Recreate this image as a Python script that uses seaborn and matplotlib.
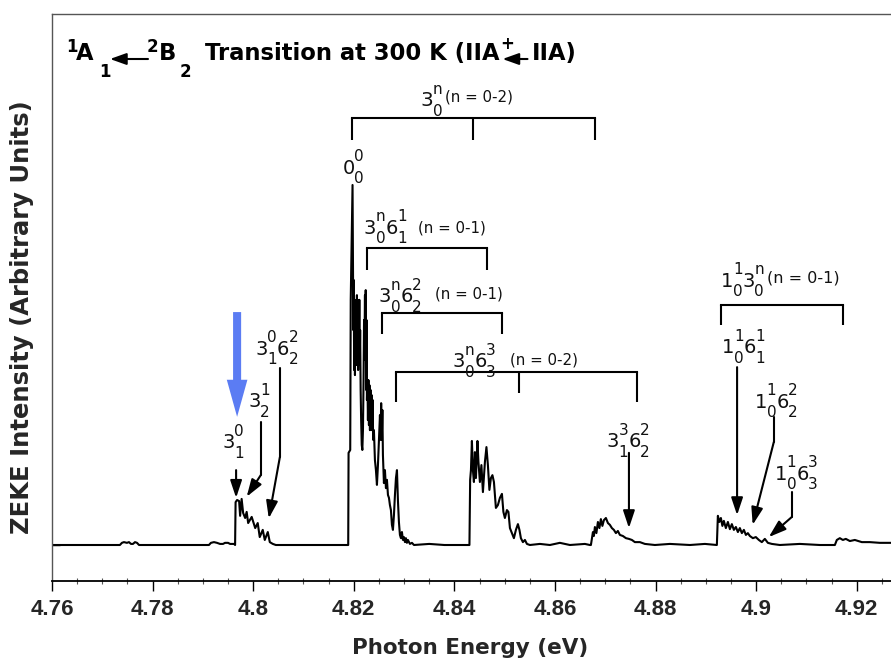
import matplotlib
matplotlib.use("Agg")
import matplotlib.pyplot as plt
from matplotlib.ticker import MultipleLocator
from matplotlib.transforms import offset_copy
import pandas as pd
import seaborn as sns

# ---------------- data ----------------
# photon energy (eV) and ZEKE intensity (arbitrary units, 0-0 band = 1)
pre_e = [4.7600, 4.7735, 4.7739, 4.7743, 4.7749, 4.7753, 4.7757, 4.7761, 4.7765, 4.7769, 4.7773,
         4.7912, 4.7916, 4.7922, 4.7928, 4.7934, 4.7940, 4.7944, 4.7950, 4.7954, 4.7962]
pre_i = [0, 0, 0.006, 0.008, 0.006, 0.008, 0.003, 0.003, 0.008, 0.006, 0,
         0, 0.006, 0.008, 0.006, 0.003, 0.003, 0.006, 0.006, 0.003, 0.003]

band1_e = [4.7964, 4.7965, 4.7968, 4.7972, 4.7974, 4.7977, 4.7980, 4.7984, 4.7987, 4.7990,
           4.7997, 4.8004, 4.8009, 4.8013, 4.8019, 4.8023, 4.8029, 4.8033, 4.8039, 4.8045]
band1_i = [0.0, 0.119, 0.125, 0.122, 0.081, 0.128, 0.089, 0.075, 0.092, 0.061,
           0.078, 0.047, 0.061, 0.022, 0.042, 0.014, 0.036, 0.008, 0.003, 0.0]

band0_e = [4.81864, 4.81889, 4.81896, 4.81929, 4.81939, 4.81955, 4.81975,
           4.81983, 4.81991, 4.81999, 4.82007, 4.82015, 4.82023, 4.82031, 4.82039, 4.82047, 4.82055,
           4.82062, 4.82070, 4.82078, 4.82086, 4.82094, 4.82102, 4.82110, 4.82118, 4.82126, 4.82136,
           4.82146, 4.82158, 4.82170, 4.82182, 4.82194, 4.82204, 4.82214, 4.82222, 4.82229, 4.82237,
           4.82245, 4.82253, 4.82261, 4.82271, 4.82281, 4.82291, 4.82301, 4.82311, 4.82321, 4.82331,
           4.82341, 4.82351, 4.82361, 4.82373, 4.82385, 4.82400, 4.82420, 4.82440, 4.82460, 4.82480,
           4.82500, 4.82520, 4.82532, 4.82544, 4.82556, 4.82568, 4.82579,
           4.82599, 4.82619, 4.82639, 4.82659, 4.82679, 4.82699, 4.82718, 4.82738, 4.82758,
           4.82778, 4.82798, 4.82818, 4.82838, 4.82858, 4.82877, 4.82897, 4.82917, 4.82937, 4.82957,
           4.82977, 4.82997, 4.83017, 4.83036, 4.83056, 4.83076, 4.83116, 4.83156, 4.83196,
           4.8350, 4.8380, 4.8420]
band0_i = [0.0, 0.0, 0.256, 0.264, 0.681, 0.819, 1.000,
           0.819, 0.597, 0.736, 0.486, 0.681, 0.472, 0.625, 0.514, 0.681, 0.500,
           0.694, 0.542, 0.681, 0.486, 0.653, 0.528, 0.681, 0.500, 0.597, 0.431,
           0.347, 0.278, 0.264, 0.319, 0.458, 0.625, 0.569, 0.694, 0.514, 0.708,
           0.431, 0.625, 0.403, 0.458, 0.347, 0.458, 0.333, 0.444, 0.319, 0.431,
           0.333, 0.417, 0.319, 0.403, 0.292, 0.319, 0.236, 0.208, 0.167, 0.222,
           0.292, 0.361, 0.292, 0.394, 0.292, 0.375, 0.250,
           0.172, 0.208, 0.158, 0.181, 0.139, 0.131, 0.111, 0.097, 0.056,
           0.042, 0.083, 0.139, 0.186, 0.208, 0.125, 0.064, 0.028, 0.019, 0.036,
           0.014, 0.022, 0.008, 0.019, 0.006, 0.014, 0.003, 0.006, 0.0,
           0.003, 0.0, 0.0]

band2_e = [4.84269, 4.84299, 4.84313, 4.84329, 4.84348, 4.84368, 4.84388, 4.84408, 4.84428, 4.84458,
           4.84478, 4.84507, 4.84537, 4.84567, 4.84607, 4.84637, 4.84666, 4.84696, 4.84726, 4.84756,
           4.84786, 4.84825, 4.84865, 4.84905, 4.84945, 4.84974, 4.85004, 4.85044, 4.85074, 4.85104,
           4.85143, 4.85183, 4.85223, 4.85263, 4.85293, 4.85322, 4.85362, 4.85402, 4.85442, 4.85501,
           4.85700, 4.85899, 4.86097, 4.86296, 4.86594, 4.86694]
band2_i = [0.0, 0.0, 0.181, 0.208, 0.289, 0.208, 0.175, 0.258, 0.186, 0.289,
           0.231, 0.175, 0.222, 0.147, 0.231, 0.272, 0.222, 0.153, 0.186, 0.194,
           0.175, 0.103, 0.111, 0.131, 0.142, 0.092, 0.075, 0.097, 0.092, 0.047,
           0.033, 0.019, 0.042, 0.058, 0.042, 0.019, 0.008, 0.014, 0.003, 0.0,
           0.003, 0.0, 0.006, 0.0, 0.003, 0.0]

band3_e = [4.86714, 4.86734, 4.86754, 4.86773, 4.86793, 4.86823, 4.86853, 4.86883, 4.86912, 4.86942,
           4.86972, 4.87012, 4.87052, 4.87091, 4.87131, 4.87171, 4.87211, 4.87250, 4.87290, 4.87350,
           4.87410, 4.87469, 4.87529, 4.87588, 4.87688, 4.87787, 4.87986, 4.88284, 4.88682, 4.88980,
           4.89198]
band3_i = [0.0, 0.019, 0.036, 0.025, 0.050, 0.033, 0.064, 0.047, 0.072, 0.053,
           0.069, 0.075, 0.061, 0.056, 0.047, 0.042, 0.033, 0.039, 0.028, 0.025,
           0.019, 0.017, 0.014, 0.008, 0.008, 0.003, 0.0, 0.003, 0.0, 0.003,
           0.0]

band4_e = [4.89218, 4.89238, 4.89268, 4.89298, 4.89328, 4.89357, 4.89397, 4.89437, 4.89477, 4.89516,
           4.89556, 4.89596, 4.89636, 4.89675, 4.89715, 4.89755, 4.89795, 4.89834, 4.89874, 4.89934,
           4.89993, 4.90053, 4.90112, 4.90172, 4.90232, 4.90311, 4.90470, 4.90868, 4.91266, 4.91564]
band4_i = [0.0, 0.081, 0.064, 0.075, 0.053, 0.067, 0.047, 0.064, 0.044, 0.058,
           0.042, 0.050, 0.036, 0.047, 0.033, 0.042, 0.028, 0.033, 0.025, 0.019,
           0.022, 0.014, 0.008, 0.017, 0.006, 0.003, 0.0, 0.003, 0.0, 0.0]

band5_e = [4.91603, 4.91663, 4.91723, 4.91782, 4.91862, 4.91961, 4.92100, 4.92259, 4.92458, 4.92677]
band5_i = [0.014, 0.019, 0.014, 0.017, 0.011, 0.014, 0.008, 0.008, 0.006, 0.006]

energy = pre_e + band1_e + band0_e + band2_e + band3_e + band4_e + band5_e
intensity = pre_i + band1_i + band0_i + band2_i + band3_i + band4_i + band5_i

x_ticks = [4.76, 4.78, 4.80, 4.82, 4.84, 4.86, 4.88, 4.90, 4.92]
x_tick_labels = ["4.76", "4.78", "4.8", "4.82", "4.84", "4.86", "4.88", "4.9", "4.92"]

# progression combs (tooth energies, bar level, tooth ends)
comb_teeth = [[4.8196, 4.8437, 4.8679], [4.8226, 4.8465], [4.8256, 4.8494],
              [4.8284, 4.8528, 4.8763], [4.8930, 4.9172]]
comb_bar = [1.186, 0.825, 0.644, 0.481, 0.667]
comb_ends = [[1.125, 1.125, 1.125], [0.764, 0.764], [0.586, 0.586],
             [0.397, 0.422, 0.397], [0.611, 0.611]]
comb_labels = [[("3", "n", "0")], [("3", "n", "0"), ("6", "1", "1")], [("3", "n", "0"), ("6", "2", "2")],
               [("3", "n", "0"), ("6", "3", "3")], [("1", "1", "0"), ("3", "n", "0")]]
comb_label_x = [4.8333, 4.8220, 4.8250, 4.8397, 4.8930]
comb_label_y = [1.219, 0.864, 0.675, 0.494, 0.717]
comb_range = ["(n = 0-2)", "(n = 0-1)", "(n = 0-1)", "(n = 0-2)", "(n = 0-1)"]
comb_range_x = [4.8381, 4.8328, 4.8361, 4.8510, 4.9021]
comb_range_y = [1.244, 0.881, 0.697, 0.514, 0.742]

# band assignments with arrows
peak_labels = [[("3", "0", "1")], [("3", "1", "2")], [("3", "0", "1"), ("6", "2", "2")],
               [("0", "0", "0")], [("3", "3", "1"), ("6", "2", "2")], [("1", "1", "0"), ("6", "1", "1")],
               [("1", "1", "0"), ("6", "2", "2")], [("1", "1", "0"), ("6", "3", "3")]]
peak_label_x = [4.7938, 4.7990, 4.8004, 4.8178, 4.8703, 4.8932, 4.8997, 4.9037]
peak_label_y = [0.269, 0.383, 0.528, 1.031, 0.272, 0.533, 0.381, 0.181]
arrow_paths = [
    [(4.7966, 0.208), (4.7966, 0.131)],
    [(4.8015, 0.342), (4.8015, 0.194), (4.7987, 0.134)],
    [(4.8053, 0.492), (4.8053, 0.244), (4.8031, 0.074)],
    [(4.8747, 0.256), (4.8747, 0.047)],
    [(4.8962, 0.494), (4.8962, 0.083)],
    [(4.9035, 0.356), (4.9035, 0.286), (4.8993, 0.056)],
    [(4.9071, 0.147), (4.9071, 0.078), (4.9025, 0.022)],
]
blue_arrow_x = 4.7968
blue_arrow_top = 0.647
blue_arrow_tip = 0.356

# ---------------- styling ----------------
sns.set_theme(style="ticks")
plt.rcParams["font.family"] = ["DejaVu Sans"]

W, H = 891, 666
fig = plt.figure(figsize=(W / 100, H / 100), dpi=100)
ax = fig.add_axes([52 / W, 85 / H, 839 / W, 567 / H])
renderer = fig.canvas.get_renderer()

df = pd.DataFrame({"energy": energy, "intensity": intensity})
sns.lineplot(data=df, x="energy", y="intensity", sort=False, estimator=None,
             color="black", linewidth=1.5, ax=ax)

ax.set_xlim(4.76, 4.9268)
ax.set_ylim(-0.1, 1.475)
ax.set_xlabel("")
ax.set_ylabel("")

ax.set_xticks(x_ticks)
ax.set_xticklabels(x_tick_labels, fontweight="bold", fontsize=16, family="Liberation Sans")
ax.xaxis.set_minor_locator(MultipleLocator(0.005))
ax.tick_params(axis="x", which="major", direction="out", length=7, width=1.0, color="black", pad=6)
ax.tick_params(axis="x", which="minor", direction="inout", length=5, width=0.8, color="#555555")
ax.set_yticks([0])
ax.set_yticklabels([])
ax.tick_params(axis="y", which="major", direction="in", length=6, width=1.0, color="black")
ax.tick_params(axis="y", which="minor", left=False)

for side in ["left", "top"]:
    ax.spines[side].set_color("#555555")
    ax.spines[side].set_linewidth(1.0)
ax.spines["bottom"].set_color("black")
ax.spines["bottom"].set_linewidth(1.3)
ax.spines["right"].set_visible(False)

LW = 1.5
TXT = "#111111"


def stacked_label(x, y, groups, size=14, ssize=11, rise=12.5, drop=9.5):
    """Base glyph with a superscript stacked over a subscript, as in spectroscopic notation."""
    dx = 0.0
    for base, sup, sub in groups:
        t = ax.text(x, y, base, fontsize=size, color=TXT, ha="left", va="baseline",
                    transform=offset_copy(ax.transData, fig=fig, x=dx, y=0, units="dots"))
        dx += t.get_window_extent(renderer).width - 0.5
        ts = ax.text(x, y, sup, fontsize=ssize, color=TXT, ha="left", va="baseline",
                     transform=offset_copy(ax.transData, fig=fig, x=dx, y=rise, units="dots"))
        tb = ax.text(x, y, sub, fontsize=ssize, color=TXT, ha="left", va="baseline",
                     transform=offset_copy(ax.transData, fig=fig, x=dx, y=-drop, units="dots"))
        dx += max(ts.get_window_extent(renderer).width, tb.get_window_extent(renderer).width)


for teeth, bar, ends in zip(comb_teeth, comb_bar, comb_ends):
    ax.plot([teeth[0], teeth[-1]], [bar, bar], color="black", lw=LW, solid_capstyle="projecting")
    for t, e in zip(teeth, ends):
        ax.plot([t, t], [bar, e], color="black", lw=LW, solid_capstyle="butt")

for i, (grp, x, y) in enumerate(zip(comb_labels, comb_label_x, comb_label_y)):
    stacked_label(x, y, grp, size=14.5 if i == 0 else 14)
for i, (txt, x, y) in enumerate(zip(comb_range, comb_range_x, comb_range_y)):
    ax.text(x, y, txt, fontsize=11.5 if i == 4 else 10.8, ha="left", va="center", color=TXT)

for grp, x, y in zip(peak_labels, peak_label_x, peak_label_y):
    stacked_label(x, y, grp)

for path in arrow_paths:
    if len(path) > 2:
        ax.plot([p[0] for p in path[:-1]], [p[1] for p in path[:-1]], color="black", lw=LW)
    ax.annotate("", xy=path[-1], xytext=path[-2],
                arrowprops=dict(arrowstyle="-|>,head_length=0.75,head_width=0.25",
                                mutation_scale=14, lw=LW, color="black",
                                shrinkA=0, shrinkB=0))

ax.arrow(blue_arrow_x, blue_arrow_top, 0, blue_arrow_tip - blue_arrow_top,
         width=0.0016, head_width=0.0041, head_length=0.103,
         length_includes_head=True, color="#5b7cf3", lw=0)


# ---------------- title line (figure pixel positions, origin top-left) ----------------
def ftext(px, py, s, size, **kw):
    return fig.text(px / W, 1 - py / H, s, fontsize=size, va="baseline", ha="left",
                    fontweight="bold", color="black", **kw)


def farrow(x_from, x_to, py):
    ax.annotate("", xy=(x_to / W, 1 - py / H), xytext=(x_from / W, 1 - py / H),
                xycoords="figure fraction", textcoords="figure fraction",
                arrowprops=dict(arrowstyle="-|>,head_length=0.7,head_width=0.25", mutation_scale=14,
                                lw=1.5, color="black", shrinkA=0, shrinkB=0))


TS, SS = 16.3, 12
ftext(66, 52, "1", SS)
ftext(76, 60, "A", TS)
ftext(99, 77, "1", SS)
farrow(148, 110, 59)
ftext(147, 52, "2", SS)
ftext(159, 60, "B", TS)
ftext(180, 77, "2", SS)
t3 = ftext(205, 60, "Transition at 300 K (IIA", TS)
xe = t3.get_window_extent(renderer).x1
ftext(xe + 1, 49, "+", SS)
farrow(xe + 28, xe + 3, 59)
ftext(xe + 32, 60, "IIA)", TS)

# axis labels
fig.text(470 / W, 1 - 648 / H, "Photon Energy (eV)", fontsize=15.5, fontweight="bold",
         ha="center", va="center")
fig.text(22 / W, 1 - 317 / H, "ZEKE Intensity (Arbitrary Units)", fontsize=17.5, fontweight="bold",
         rotation=90, ha="center", va="center")

fig.savefig("out.png", dpi=100)
